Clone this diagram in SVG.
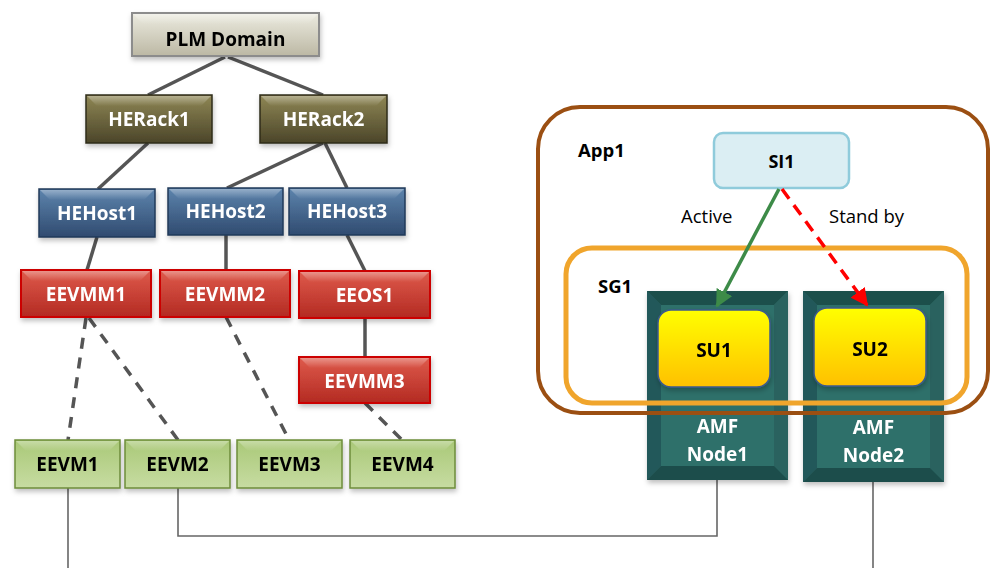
<svg xmlns="http://www.w3.org/2000/svg" width="990" height="568" viewBox="0 0 990 568">
<defs>
  <linearGradient id="gPlm" x1="0" y1="0" x2="0" y2="1"><stop offset="0" stop-color="#ecebe0"/><stop offset="1" stop-color="#bcb8a4"/></linearGradient>
  <linearGradient id="gRack" x1="0" y1="0" x2="0" y2="1"><stop offset="0" stop-color="#8f8755"/><stop offset="1" stop-color="#4b4529"/></linearGradient>
  <linearGradient id="gHost" x1="0" y1="0" x2="0" y2="1"><stop offset="0" stop-color="#5d84ad"/><stop offset="1" stop-color="#304b70"/></linearGradient>
  <linearGradient id="gVmm" x1="0" y1="0" x2="0" y2="1"><stop offset="0" stop-color="#df5b4c"/><stop offset="1" stop-color="#b32a22"/></linearGradient>
  <linearGradient id="gVm" x1="0" y1="0" x2="0" y2="1"><stop offset="0" stop-color="#a9c877"/><stop offset="1" stop-color="#c7dca2"/></linearGradient>
  <linearGradient id="gSu" x1="0" y1="0" x2="0" y2="1"><stop offset="0" stop-color="#ffff00"/><stop offset="1" stop-color="#ffc000"/></linearGradient>
  <linearGradient id="gBevel" x1="0" y1="0" x2="0" y2="1"><stop offset="0" stop-color="#ffffff" stop-opacity="0.35"/><stop offset="1" stop-color="#ffffff" stop-opacity="0"/></linearGradient>
  <filter id="sh" x="-10%" y="-10%" width="130%" height="140%"><feDropShadow dx="1" dy="3" stdDeviation="2.5" flood-color="#000" flood-opacity="0.25"/></filter>
  <marker id="mGreen" viewBox="0 0 10 10" refX="9" refY="5" markerWidth="5" markerHeight="5" orient="auto" markerUnits="strokeWidth"><path d="M0,0 L10,5 L0,10 z" fill="#3d8b48"/></marker>
  <marker id="mRed" viewBox="0 0 10 10" refX="9" refY="5" markerWidth="5" markerHeight="5" orient="auto" markerUnits="strokeWidth"><path d="M0,0 L10,5 L0,10 z" fill="#ff0000"/></marker>
</defs>
<style>
  text { font-family: "Open Sans", "Noto Sans", "Liberation Sans", sans-serif; font-weight: bold; text-anchor: middle; }
  .t19 { font-size: 19px; }
  .w { fill: #ffffff; }
  .k { fill: #000000; }
  .edge { stroke: #555555; stroke-width: 3.5; fill: none; }
  .dash { stroke: #555555; stroke-width: 3.5; fill: none; stroke-dasharray: 11 9; }
  .wire { stroke: #666666; stroke-width: 1.6; fill: none; }
  .plm { fill: url(#gPlm); stroke: #8c8c8c; stroke-width: 2; }
  .rack { fill: url(#gRack); stroke: #2f2b18; stroke-width: 1.5; }
  .host { fill: url(#gHost); stroke: #203a5a; stroke-width: 1.5; }
  .vmm { fill: url(#gVmm); stroke: #cc0000; stroke-width: 2; }
  .vm { fill: url(#gVm); stroke: #6e8d3b; stroke-width: 1.5; }
  .bev { fill: url(#gBevel); }
  .su { fill: url(#gSu); stroke: #3d5a8c; stroke-width: 1.5; }
  .lbl { font-size: 18.5px; fill: #000; text-anchor: start; }
  .reg { font-weight: normal; font-size: 18.5px; fill: #000; text-anchor: start; }
</style>

<g id="connectors">
  <line class="edge" x1="225" y1="57" x2="148" y2="95"/>
  <line class="edge" x1="228" y1="57" x2="323" y2="95"/>
  <line class="edge" x1="148" y1="143" x2="98" y2="189"/>
  <line class="edge" x1="323" y1="143" x2="227" y2="188"/>
  <line class="edge" x1="325" y1="143" x2="347" y2="188"/>
  <line class="edge" x1="97" y1="237" x2="87" y2="270"/>
  <line class="edge" x1="226" y1="235" x2="226" y2="270"/>
  <line class="edge" x1="347" y1="235" x2="365" y2="271"/>
  <line class="edge" x1="365" y1="318" x2="365" y2="357"/>
  <line class="dash" x1="86" y1="318" x2="68" y2="440"/>
  <line class="dash" x1="89" y1="318" x2="178" y2="440"/>
  <line class="dash" x1="226" y1="317" x2="286" y2="434"/>
  <line class="dash" x1="365" y1="403" x2="402" y2="440"/>
  <path class="wire" d="M68,488 V568"/>
  <path class="wire" d="M178,488 V536 H717 V480"/>
  <path class="wire" d="M873,482 V568"/>
</g>

<g id="plm-domain" filter="url(#sh)">
  <rect class="plm" x="132" y="13" width="187" height="43"/>
  <polygon class="bev" points="133,14 318,14 308,24 143,24"/>
  <text class="t19 k" x="225.5" y="46">PLM Domain</text>
</g>
<g id="herack1" filter="url(#sh)">
  <rect class="rack" x="86" y="95" width="126" height="48"/>
  <polygon class="bev" points="87,96 211,96 201,106 97,106"/>
  <text class="t19 w" x="149" y="126">HERack1</text>
</g>
<g id="herack2" filter="url(#sh)">
  <rect class="rack" x="260" y="95" width="127" height="48"/>
  <polygon class="bev" points="261,96 386,96 376,106 271,106"/>
  <text class="t19 w" x="323.5" y="126">HERack2</text>
</g>
<g id="hehost1" filter="url(#sh)">
  <rect class="host" x="39" y="189" width="116" height="48"/>
  <polygon class="bev" points="40,190 154,190 144,200 50,200"/>
  <text class="t19 w" x="97" y="220">HEHost1</text>
</g>
<g id="hehost2" filter="url(#sh)">
  <rect class="host" x="168" y="188" width="115" height="47"/>
  <polygon class="bev" points="169,189 282,189 272,199 179,199"/>
  <text class="t19 w" x="225.5" y="218">HEHost2</text>
</g>
<g id="hehost3" filter="url(#sh)">
  <rect class="host" x="289" y="188" width="116" height="47"/>
  <polygon class="bev" points="290,189 404,189 394,199 300,199"/>
  <text class="t19 w" x="347" y="218">HEHost3</text>
</g>
<g id="eevmm1" filter="url(#sh)">
  <rect class="vmm" x="21" y="270" width="130" height="47"/>
  <polygon class="bev" points="22,271 150,271 140,281 32,281"/>
  <text class="t19 w" x="86" y="301">EEVMM1</text>
</g>
<g id="eevmm2" filter="url(#sh)">
  <rect class="vmm" x="160" y="270" width="130" height="47"/>
  <polygon class="bev" points="161,271 289,271 279,281 171,281"/>
  <text class="t19 w" x="225" y="301">EEVMM2</text>
</g>
<g id="eeos1" filter="url(#sh)">
  <rect class="vmm" x="299" y="271" width="131" height="47"/>
  <polygon class="bev" points="300,272 429,272 419,282 310,282"/>
  <text class="t19 w" x="364.5" y="302">EEOS1</text>
</g>
<g id="eevmm3" filter="url(#sh)">
  <rect class="vmm" x="299" y="357" width="131" height="46"/>
  <polygon class="bev" points="300,358 429,358 419,368 310,368"/>
  <text class="t19 w" x="364.5" y="388">EEVMM3</text>
</g>
<g id="eevm1" filter="url(#sh)">
  <rect class="vm" x="15" y="440" width="105" height="48"/>
  <polygon class="bev" points="16,441 119,441 109,451 26,451"/>
  <text class="t19 k" x="67.5" y="471">EEVM1</text>
</g>
<g id="eevm2" filter="url(#sh)">
  <rect class="vm" x="125" y="440" width="105" height="48"/>
  <polygon class="bev" points="126,441 229,441 219,451 136,451"/>
  <text class="t19 k" x="177.5" y="471">EEVM2</text>
</g>
<g id="eevm3" filter="url(#sh)">
  <rect class="vm" x="237" y="440" width="105" height="48"/>
  <polygon class="bev" points="238,441 341,441 331,451 248,451"/>
  <text class="t19 k" x="289.5" y="471">EEVM3</text>
</g>
<g id="eevm4" filter="url(#sh)">
  <rect class="vm" x="350" y="440" width="105" height="48"/>
  <polygon class="bev" points="351,441 454,441 444,451 361,451"/>
  <text class="t19 k" x="402.5" y="471">EEVM4</text>
</g>

<g id="amf-node1" filter="url(#sh)">
  <rect x="647" y="291" width="141" height="189" fill="#2c6662"/>
  <polygon points="647,291 788,291 774,305 661,305" fill="#1f4f4c"/>
  <polygon points="647,291 661,305 661,466 647,480" fill="#24595a"/>
  <polygon points="788,291 774,305 774,466 788,480" fill="#2a625e"/>
  <polygon points="647,480 661,466 774,466 788,480" fill="#1f4e4b"/>
  <rect x="661" y="305" width="113" height="161" fill="#2f706b"/>
  <text class="t19 w" x="717.5" y="433">AMF</text>
  <text class="t19 w" x="717.5" y="461">Node1</text>
</g>
<g id="amf-node2" filter="url(#sh)">
  <rect x="803" y="291" width="141" height="191" fill="#2c6662"/>
  <polygon points="803,291 944,291 930,305 817,305" fill="#1f4f4c"/>
  <polygon points="803,291 817,305 817,468 803,482" fill="#24595a"/>
  <polygon points="944,291 930,305 930,468 944,482" fill="#2a625e"/>
  <polygon points="803,482 817,468 930,468 944,482" fill="#1f4e4b"/>
  <rect x="817" y="305" width="113" height="163" fill="#2f706b"/>
  <text class="t19 w" x="873.5" y="434">AMF</text>
  <text class="t19 w" x="873.5" y="462">Node2</text>
</g>

<g id="app1">
  <rect x="538" y="107" width="450" height="306" rx="42" ry="42" fill="none" stroke="#9b4f12" stroke-width="4"/>
  <text class="lbl" x="578" y="157">App1</text>
</g>
<g id="sg1">
  <rect x="566" y="248" width="401" height="155" rx="26" ry="26" fill="none" stroke="#f0a52c" stroke-width="5"/>
  <text class="lbl" x="598" y="293">SG1</text>
</g>

<g id="si1">
  <rect x="714" y="133" width="135" height="55" rx="9" ry="9" fill="#dbeef3" stroke="#8fcbdb" stroke-width="2.5"/>
  <text class="t19 k" x="781.5" y="168" style="font-size:18px">SI1</text>
</g>
<g id="su1" filter="url(#sh)">
  <rect class="su" x="658" y="310" width="112" height="77" rx="13" ry="13"/>
  <text class="t19 k" x="714" y="357">SU1</text>
</g>
<g id="su2" filter="url(#sh)">
  <rect class="su" x="814" y="308" width="112" height="78" rx="13" ry="13"/>
  <text class="t19 k" x="870" y="356">SU2</text>
</g>

<g id="assignments">
  <line x1="779" y1="189" x2="717" y2="306" stroke="#3d8b48" stroke-width="3.5" marker-end="url(#mGreen)"/>
  <line x1="782" y1="189" x2="867" y2="305" stroke="#ff0000" stroke-width="3.5" stroke-dasharray="12 8" marker-end="url(#mRed)"/>
  <text class="reg" x="681" y="223">Active</text>
  <text class="reg" x="829" y="223">Stand by</text>
</g>
</svg>
